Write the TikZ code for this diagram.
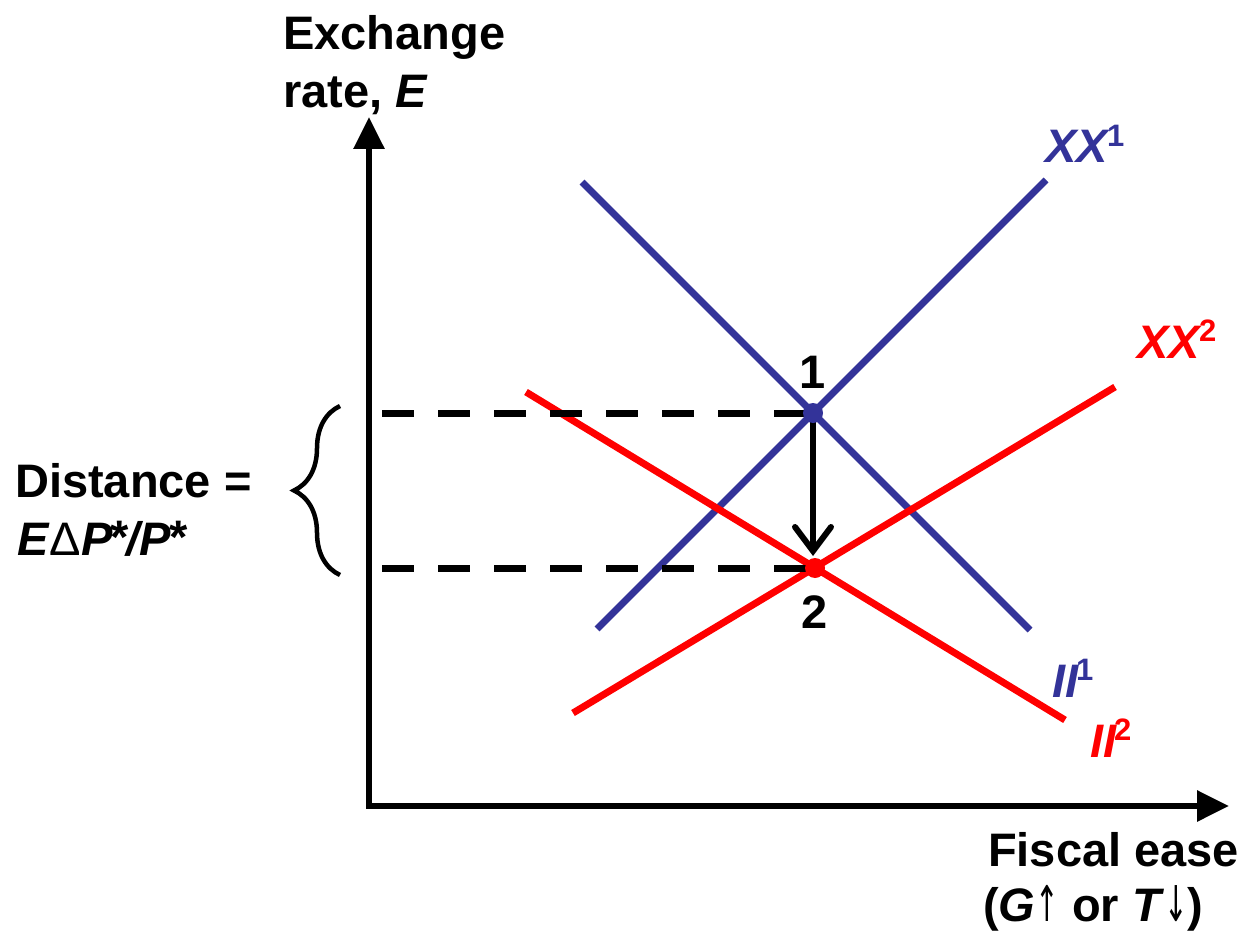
\documentclass[tikz,border=0pt]{standalone}
\usepackage{fontspec}
\setmainfont{Liberation Sans}
\newfontfamily\arrfont{DejaVu Sans}
\usetikzlibrary{arrows.meta,decorations.pathreplacing}
\definecolor{xblue}{HTML}{333399}
\definecolor{xred}{HTML}{FF0000}
\newcommand{\supr}[1]{\kern-3pt\raisebox{17pt}{\fontsize{31}{31}\selectfont\upshape #1}}
\newcommand{\thinarr}[1]{\scalebox{0.6}[1.05]{\arrfont\mdseries #1}}
\begin{document}
\begin{tikzpicture}[x=1pt,y=-1pt,
  lbl/.style={font=\fontsize{47}{56}\selectfont\bfseries, inner sep=0pt},
  axis/.style={line width=6pt, line join=miter,
    {Triangle[length=32pt,width=30pt]}-{Triangle[length=32pt,width=30pt]}},
  curve/.style={line width=7pt},
  guide/.style={line width=7pt, dash pattern=on 32pt off 24pt},
  move/.style={line width=6pt, -{Straight Barb[length=24pt,width=36pt,line width=6pt,line cap=round]}},
  dot/.style={radius=10pt}]
\useasboundingbox (0,0) rectangle (1243,931);
% axes
\coordinate (O) at (369,806);
\coordinate (Ytop) at (369,117);
\coordinate (Xend) at (1229,806);
\draw[axis] (Ytop) -- (O) -- (Xend);
% equilibrium points
\coordinate (p1) at (813,413);
\coordinate (p2) at (815,568);
% curves
\coordinate (xx1a) at (597,629);
\coordinate (xx1b) at (1046,180);
\coordinate (ii1a) at (582,182);
\coordinate (ii1b) at (1030,630);
\coordinate (xx2a) at (573,713);
\coordinate (xx2b) at (1115,387);
\coordinate (ii2a) at (526,392);
\coordinate (ii2b) at (1065,720);
\draw[curve, xblue] (xx1a) -- (xx1b);
\draw[curve, xblue] (ii1a) -- (ii1b);
\draw[curve, xred] (xx2a) -- (xx2b);
\draw[curve, xred] (ii2a) -- (ii2b);
% dashed guides
\coordinate (d1) at (382,413);
\coordinate (d2) at (382,568);
\draw[guide] (d1) -- (p1);
\draw[guide] (d2) -- (p2);
% shift arrow
\coordinate (atip) at (813,556);
\draw[move] (p1) -- (atip);
\fill[xblue] (p1) circle[dot];
\fill[xred] (p2) circle[dot];
% brace
\coordinate (b1) at (340,575);
\coordinate (b2) at (340,406);
\draw[line width=4.5pt, decorate, decoration={brace, amplitude=46pt}] (b1) -- (b2);
% labels
\node[lbl, anchor=base west] (ylab1) at (283,50) {Exchange};
\node[lbl, anchor=base west] (ylab2) at (283,108) {rate, \textit{E}};
\node[lbl, anchor=base west] (dist1) at (15,497) {Distance =};
\node[lbl, anchor=base west] (dist2) at (17,555) {\textit{E}{\mdseries Δ}\textit{P}\kern-2pt\raisebox{2pt}{*}\kern-2pt\textit{/P}\kern-2pt\raisebox{2pt}{*}};
\node[lbl, anchor=base west] (xlab1) at (988,866) {Fiscal ease};
\node[lbl, anchor=base west] (xlab2) at (983,921) {(\textit{G}\thinarr{↑} or \textit{T}\thinarr{↓})};
\node[lbl] (n1) at (813,372) {1};
\node[lbl] (n2) at (815,612) {2};
\node[lbl, anchor=base west, text=xblue] (lxx1) at (1045,163) {\textit{XX}\supr{1}};
\node[lbl, anchor=base west, text=xred] (lxx2) at (1137,358) {\textit{XX}\supr{2}};
\node[lbl, anchor=base west, text=xblue] (lii1) at (1052,697) {\textit{II}\supr{1}};
\node[lbl, anchor=base west, text=xred] (lii2) at (1090,757) {\textit{II}\supr{2}};
\end{tikzpicture}
\end{document}
